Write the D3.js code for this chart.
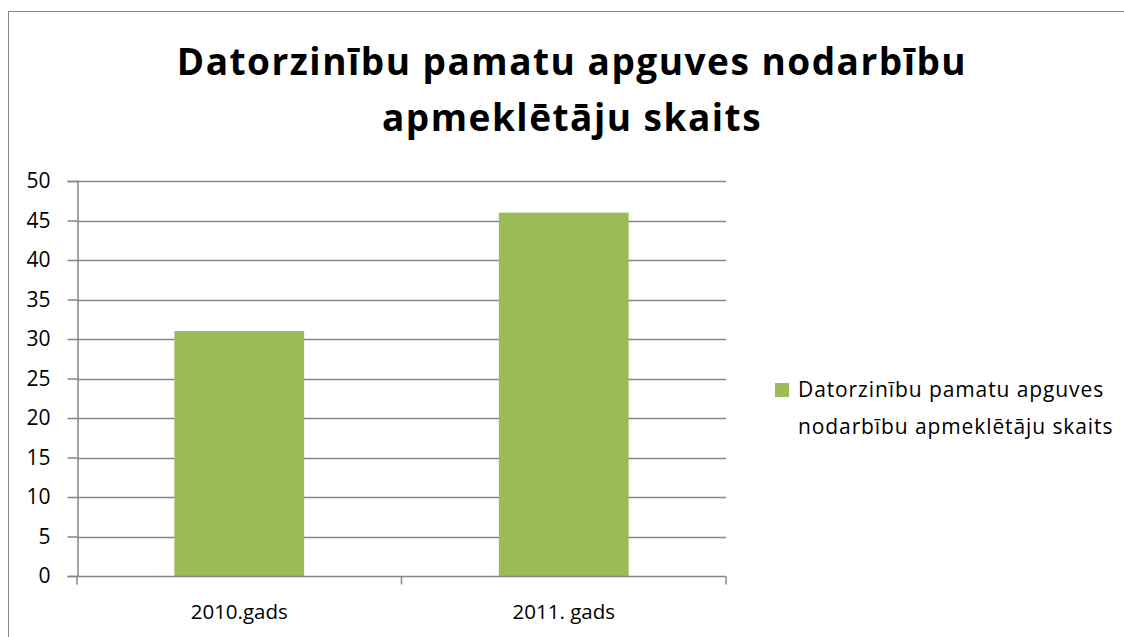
<!DOCTYPE html>
<html>
  <head>
    <meta charset="utf-8" />
    <title>Datorzinību pamatu apguves nodarbību apmeklētāju skaits</title>
    <script src="https://d3js.org/d3.v7.min.js"></script>
    <style>
      body { margin: 0; background: #fff; }
      text { font-family: "Open Sans", sans-serif; fill: #000; }
    </style>
  </head>
  <body>
    <svg id="chart" width="1124" height="637"></svg>
    <script>
      // data
      var categories = ["2010.gads", "2011. gads"];
      var values = [31, 46];
      var yTicks = [0, 5, 10, 15, 20, 25, 30, 35, 40, 45, 50];
      var titleLines = ["Datorzinību pamatu apguves nodarbību", "apmeklētāju skaits"];
      var legendLines = ["Datorzinību pamatu apguves", "nodarbību apmeklētāju skaits"];

      const svg = d3.select("#chart");

      // outer chart border (runs off the right/bottom edge)
      svg.append("rect")
        .attr("x", 8.5).attr("y", 11.5)
        .attr("width", 1130).attr("height", 640)
        .attr("fill", "none").attr("stroke", "#868686");

      var x = d3.scaleBand().domain(categories).range([77, 726])
        .paddingInner(0.6).paddingOuter(0.3);
      var y = d3.scaleLinear().domain([0, 50]).range([576, 181]);

      // gridlines
      svg.append("g").selectAll("line").data(yTicks.slice(1)).join("line")
        .attr("x1", 77).attr("x2", 726)
        .attr("y1", d => Math.round(y(d)) + 0.5).attr("y2", d => Math.round(y(d)) + 0.5)
        .attr("stroke", "#868686").attr("stroke-width", 1.5);

      // bars
      svg.append("g").selectAll("rect").data(values).join("rect")
        .attr("x", (d, i) => x(categories[i]))
        .attr("width", x.bandwidth())
        .attr("y", d => y(d))
        .attr("height", d => y(0) - y(d))
        .attr("fill", "#9bbb59");

      // y axis
      var yAxis = svg.append("g").attr("transform", "translate(77.5,0)")
        .call(d3.axisLeft(y).tickValues(yTicks).tickSize(10).tickPadding(17));
      yAxis.select(".domain").attr("stroke", "#868686").attr("stroke-width", 1.5);
      yAxis.selectAll(".tick line").attr("stroke", "#868686").attr("stroke-width", 1.5);
      yAxis.selectAll("text").style("font-size", "21px").style("font-family", "'Open Sans', sans-serif");

      // x axis, ticks on category boundaries
      var xg = svg.append("g").attr("transform", "translate(0," + (y(0) + 0.5) + ")");
      xg.append("line").attr("x1", 77).attr("x2", 726)
        .attr("stroke", "#868686").attr("stroke-width", 1.5);
      var bounds = [77, (77 + 726) / 2, 726];
      xg.selectAll(".bt").data(bounds).join("line").attr("class", "bt")
        .attr("x1", d => d).attr("x2", d => d).attr("y1", 0).attr("y2", 8)
        .attr("stroke", "#868686").attr("stroke-width", 1.5);
      xg.selectAll("text").data(categories).join("text")
        .attr("x", d => x(d) + x.bandwidth() / 2)
        .attr("y", 42)
        .attr("text-anchor", "middle")
        .style("font-size", "20.5px")
        .text(d => d);

      // title
      svg.append("g").selectAll("text").data(titleLines).join("text")
        .attr("x", 572).attr("y", (d, i) => 75 + i * 56)
        .attr("text-anchor", "middle")
        .style("font-size", "37px").style("font-weight", "bold")
        .style("letter-spacing", "1.5px")
        .text(d => d);

      // legend
      var lg = svg.append("g");
      lg.append("rect").attr("x", 775).attr("y", 383).attr("width", 14).attr("height", 14)
        .attr("fill", "#9bbb59");
      lg.selectAll("text").data(legendLines).join("text")
        .attr("x", 798).attr("y", (d, i) => 397 + i * 37)
        .style("font-size", "21px")
        .style("letter-spacing", "0.9px")
        .text(d => d);
    </script>
  </body>
</html>
